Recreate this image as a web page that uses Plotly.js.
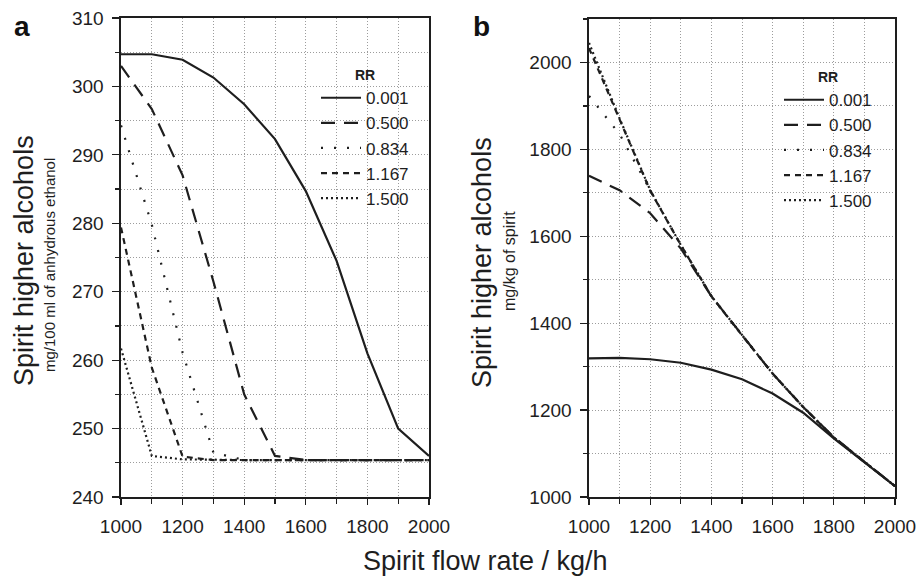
<!DOCTYPE html>
<html>
<head>
<meta charset="utf-8">
<script src="https://cdn.plot.ly/plotly-3.0.1.min.js"></script>
<style>html,body{margin:0;padding:0;background:#fff;}#chart{width:920px;height:579px;}</style>
</head>
<body>
<div id="chart"></div>
<script>
// Spirit flow rate (kg/h)
const flowRate = [1000, 1100, 1200, 1300, 1400, 1500, 1600, 1700, 1800, 1900, 2000];
const rrLabels = ['0.001', '0.500', '0.834', '1.167', '1.500'];

// Panel a: mg/100 ml of anhydrous ethanol
const a_rr0001 = [304.7, 304.7, 303.9, 301.3, 297.4, 292.3, 284.7, 274.5, 261.0, 250.0, 246.0];
const a_rr0500 = [303.0, 296.7, 287.0, 271.5, 255.0, 246.0, 245.4, 245.4, 245.4, 245.4, 245.4];
const a_rr0834 = [294.3, 279.8, 261.1, 246.5, 245.4, 245.4, 245.4, 245.4, 245.4, 245.4, 245.4];
const a_rr1167 = [279.4, 258.9, 245.9, 245.4, 245.4, 245.4, 245.4, 245.4, 245.4, 245.4, 245.4];
const a_rr1500 = [261.7, 246.0, 245.5, 245.4, 245.4, 245.4, 245.4, 245.4, 245.4, 245.4, 245.4];

// Panel b: mg/kg of spirit
const b_rr0001 = [1319, 1320, 1317, 1309, 1293, 1271, 1238, 1194, 1135, 1081, 1025];
const b_rr0500 = [1739, 1706, 1653, 1572, 1462, 1372, 1284, 1207, 1138, 1081, 1025];
const b_rr0834 = [1923, 1835, 1706, 1580, 1462, 1372, 1284, 1207, 1137, 1081, 1025];
const b_rr1167 = [2033, 1868, 1705, 1580, 1462, 1372, 1284, 1207, 1137, 1081, 1025];
const b_rr1500 = [2045, 1871, 1706, 1580, 1462, 1372, 1284, 1207, 1137, 1081, 1025];

const dashes = ['solid', '14px,9px', '2px,11px', '6px,5px', '2px,3px'];
const ink = '#1e1e1e';
const gridCol = '#9c9c9c';
const gridDash = '1px,2px';
const fontFam = 'Arial, "Liberation Sans", Helvetica, sans-serif';

const aSeries = [a_rr0001, a_rr0500, a_rr0834, a_rr1167, a_rr1500];
const bSeries = [b_rr0001, b_rr0500, b_rr0834, b_rr1167, b_rr1500];

const traces = [];
aSeries.forEach((ys, i) => traces.push({
  x: flowRate, y: ys, type: 'scatter', mode: 'lines', name: rrLabels[i],
  xaxis: 'x', yaxis: 'y', legend: 'legend',
  line: {color: ink, width: 2.2, dash: dashes[i]}
}));
bSeries.forEach((ys, i) => traces.push({
  x: flowRate, y: ys, type: 'scatter', mode: 'lines', name: rrLabels[i],
  xaxis: 'x2', yaxis: 'y2', legend: 'legend2',
  line: {color: ink, width: 2.2, dash: dashes[i]}
}));

const W = 920, H = 579;
const px = v => v / W;
const py = v => 1 - v / H;

function xAx(dom, anchor) {
  return {
    domain: dom, anchor: anchor, range: [1000, 2000],
    tickmode: 'linear', tick0: 1000, dtick: 200,
    showgrid: true, gridcolor: gridCol, griddash: gridDash, gridwidth: 1,
    minor: {dtick: 100, tick0: 1000, showgrid: true, gridcolor: gridCol, griddash: gridDash, gridwidth: 1,
            ticks: 'outside', ticklen: 5, tickcolor: ink, tickwidth: 1.2},
    showline: true, linecolor: ink, linewidth: 1.6, mirror: true,
    ticks: 'outside', ticklen: 6, tickwidth: 1.2, tickcolor: ink,
    ticklabelstandoff: 6,
    tickfont: {family: fontFam, size: 19, color: ink},
    zeroline: false, fixedrange: true
  };
}
function yAx(dom, anchor, range, dtick, mdtick) {
  return {
    domain: dom, anchor: anchor, range: range,
    tickmode: 'linear', tick0: range[0], dtick: dtick,
    showgrid: true, gridcolor: gridCol, griddash: gridDash, gridwidth: 1,
    minor: {dtick: mdtick, tick0: range[0], showgrid: true, gridcolor: gridCol, griddash: gridDash, gridwidth: 1,
            ticks: 'outside', ticklen: 4, tickcolor: ink, tickwidth: 1.2},
    showline: true, linecolor: ink, linewidth: 1.6, mirror: true,
    ticks: 'outside', ticklen: 7, tickwidth: 1.2, tickcolor: ink,
    ticklabelstandoff: 5,
    tickfont: {family: fontFam, size: 19, color: ink},
    zeroline: false, fixedrange: true
  };
}
// inward ticks on the mirrored (top / right) sides
function xMirror(over, anchor) {
  return {overlaying: over, anchor: anchor, side: 'top', range: [1000, 2000],
    tickmode: 'linear', tick0: 1000, dtick: 100, ticks: 'inside', ticklen: 5, tickwidth: 1.2, tickcolor: ink,
    showticklabels: false, showgrid: false, showline: false, zeroline: false, fixedrange: true};
}
function yMirror(over, anchor, range, dtick) {
  return {overlaying: over, anchor: anchor, side: 'right', range: range,
    tickmode: 'linear', tick0: range[0], dtick: dtick, ticks: 'inside', ticklen: 5, tickwidth: 1.2, tickcolor: ink,
    showticklabels: false, showgrid: false, showline: false, zeroline: false, fixedrange: true};
}

const legendBase = (x, y) => ({
  x: x, y: y, xanchor: 'left', yanchor: 'top', xref: 'paper', yref: 'paper',
  bgcolor: 'rgba(0,0,0,0)', borderwidth: 0,
  font: {family: fontFam, size: 17, color: ink},
  title: {text: '<b>RR</b>', side: 'top center', font: {family: fontFam, size: 14, color: ink}},
  itemwidth: 40, tracegroupgap: 0
});

const layout = {
  width: W, height: H,
  margin: {l: 0, r: 0, t: 0, b: 0},
  paper_bgcolor: '#fff', plot_bgcolor: '#fff',
  font: {family: fontFam, color: ink},
  showlegend: true,
  xaxis: xAx([px(121), px(429)], 'y'),
  yaxis: yAx([py(497), py(18)], 'x', [240, 310], 10, 5),
  xaxis2: xAx([px(589), px(895)], 'y2'),
  yaxis2: yAx([py(497), py(19)], 'x2', [1000, 2100], 200, 100),
  xaxis3: xMirror('x', 'y'),
  yaxis3: yMirror('y', 'x', [240, 310], 5),
  xaxis4: xMirror('x2', 'y2'),
  yaxis4: yMirror('y2', 'x2', [1000, 2100], 100),
  legend: legendBase(px(316), py(62)),
  legend2: legendBase(px(779), py(64)),
  annotations: [
    {text: '<b>a</b>', x: px(12), y: py(27), xref: 'paper', yref: 'paper', xanchor: 'left', yanchor: 'middle',
     showarrow: false, font: {family: fontFam, size: 28, color: '#111'}},
    {text: '<b>b</b>', x: px(471), y: py(27), xref: 'paper', yref: 'paper', xanchor: 'left', yanchor: 'middle',
     showarrow: false, font: {family: fontFam, size: 28, color: '#111'}},
    {text: 'Spirit higher alcohols', textangle: -90, x: px(24), y: py(261), xref: 'paper', yref: 'paper',
     xanchor: 'center', yanchor: 'middle', showarrow: false, font: {family: fontFam, size: 27, color: ink}},
    {text: 'mg/100 ml of anhydrous ethanol', textangle: -90, x: px(50), y: py(265), xref: 'paper', yref: 'paper',
     xanchor: 'center', yanchor: 'middle', showarrow: false, font: {family: fontFam, size: 15, color: ink}},
    {text: 'Spirit higher alcohols', textangle: -90, x: px(482), y: py(263), xref: 'paper', yref: 'paper',
     xanchor: 'center', yanchor: 'middle', showarrow: false, font: {family: fontFam, size: 27, color: ink}},
    {text: 'mg/kg of spirit', textangle: -90, x: px(509), y: py(261), xref: 'paper', yref: 'paper',
     xanchor: 'center', yanchor: 'middle', showarrow: false, font: {family: fontFam, size: 16, color: ink}},
    {text: 'Spirit flow rate / kg/h', x: px(485), y: py(561), xref: 'paper', yref: 'paper',
     xanchor: 'center', yanchor: 'middle', showarrow: false, font: {family: fontFam, size: 27, color: ink}}
  ]
};

Plotly.newPlot('chart', traces, layout, {displayModeBar: false, staticPlot: true});
</script>
</body>
</html>
